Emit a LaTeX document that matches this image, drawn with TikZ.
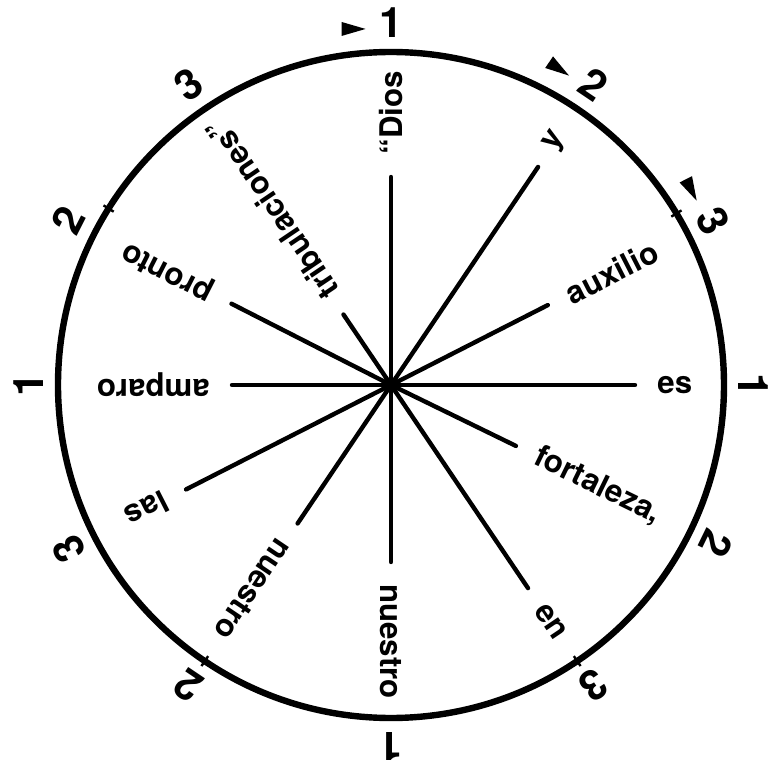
\documentclass[tikz,border=0pt]{standalone}
\usepackage{fontspec}
\setmainfont{TeX Gyre Heros}
\usetikzlibrary{calc}

\begin{document}
\begin{tikzpicture}[
  x=0.5pt, y=0.5pt,
  rim/.style={line width=3.2pt},
  spoke/.style={line width=2.2pt, line cap=round},
  word/.style={anchor=west, inner sep=0pt, font=\bfseries\fontsize{15.6}{18}\selectfont},
  beat/.style={inner sep=0pt, font=\bfseries\fontsize{21}{22}\selectfont},
  notch/.style={line width=1.2pt},
]

\def\gap{22}
\def\beatr{362}

\useasboundingbox (-391,-375) rectangle (380,385);

% Kreis und Mitte
\coordinate (hub) at (0,0);
\draw[rim] (hub) circle[radius=333];
\fill (hub) circle[radius=5];

% Speichen mit Woertern
\foreach \a/\len/\w/\n in {0/244/es/es, 27/176/auxilio/auxilio, 56/263/y/y,
    90/208/“Dios/dios, 124/85/tribulaciones”/trib, 153/179/pronto/pronto,
    180/159/amparo/amparo, 207/230/las/las, 236/167/nuestro/nuestroB,
    270/177/nuestro/nuestroA, 304/245/en/en, 334/139/{fortaleza,}/fort}{
  \coordinate (\n-end) at ({\a}:{\len});
  \draw[spoke] (hub) -- (\n-end);
  \node[word, rotate=\a] (\n) at ({\a}:{\len+\gap}) {\w};
}

% Zaehlzeiten aussen
\foreach \a/\d [count=\i] in {90/1, 56/2, 27/3, 0/1, -26/2, -56/3,
    -90/1, -124/2, -153/3, 180/1, 153/2, 124/3}{
  \node[beat, rotate=\a-90] (beat\i) at ({\a}:{\beatr}) {\d};
}

% Pfeilspitzen vor 1 2 3
\foreach \a in {90, 56, 27}{
  \fill[shift={({\a+6}:{358})}, rotate=\a-90] (-12,7) -- (12,0) -- (-12,-7) -- cycle;
}

% kleine Marken am Kreis
\foreach \a in {31, 148, 236, 304}{
  \draw[notch] ({\a}:{327}) -- ({\a}:{339});
}

\end{tikzpicture}
\end{document}
